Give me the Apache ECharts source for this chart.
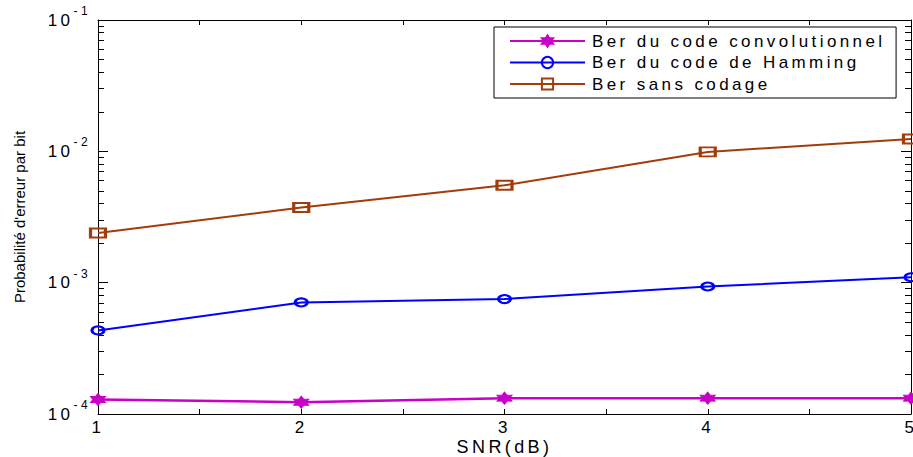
<!DOCTYPE html>
<html>
<head>
<meta charset="utf-8">
<script src="https://cdn.jsdelivr.net/npm/echarts@6/dist/echarts.min.js"></script>
<style>
    html, body { margin: 0; padding: 0; background: #fff; }
    #main { width: 913px; height: 457px; }
    /* matlab export looks stretched sideways, so open up the letters */
    #main text { letter-spacing: 3.4px; }
    #main text[transform^="matrix(0,-1"] { letter-spacing: 0px; }
</style>
</head>
<body>
<div id="main"></div>
<script>
var snr = [1, 2, 3, 4, 5];
var berConv = [1.29e-4, 1.23e-4, 1.32e-4, 1.32e-4, 1.32e-4];
var berHamming = [4.33e-4, 7.07e-4, 7.5e-4, 9.35e-4, 1.10e-3];
var berSans = [2.39e-3, 3.73e-3, 5.51e-3, 9.9e-3, 1.24e-2];
var xTicks = [1, 2, 3, 4, 5];
var yTicks = [1e-4, 1e-3, 1e-2, 1e-1];
var yExpLabels = ['-4', '-3', '-2', '-1'];
var seriesNames = ['Ber du code convolutionnel', 'Ber du code de Hamming', 'Ber sans codage'];

// minor log ticks 2..9 in each decade
var yMinor = [];
for (var d = 0; d < yTicks.length - 1; d++) {
    for (var k = 2; k <= 9; k++) {
        yMinor.push(+(k * yTicks[d]).toPrecision(3));
    }
}

var hexagram = 'path://M0,-100 L28.9,-50 L86.6,-50 L57.7,0 L86.6,50 L28.9,50 L0,100 L-28.9,50 L-86.6,50 L-57.7,0 L-86.6,-50 L-28.9,-50 Z';
var font = 'Liberation Sans';

function pairs(ys) {
    var out = [];
    for (var i = 0; i < snr.length; i++) out.push([snr[i], ys[i]]);
    return out;
}

function yAxisBase(pos, ticks, len, showLine) {
    return {
        type: 'log',
        position: pos,
        min: yTicks[0],
        max: yTicks[yTicks.length - 1],
        axisLine: { show: showLine, lineStyle: { color: '#000', width: 1 } },
        axisTick: { show: true, inside: true, length: len, customValues: ticks, lineStyle: { color: '#000', width: 1 } },
        axisLabel: { show: false },
        splitLine: { show: false }
    };
}

var chart = echarts.init(document.getElementById('main'), null, { renderer: 'svg' });

var yMain = yAxisBase('left', yTicks, 10, true);
yMain.name = 'Probabilité d\'erreur par bit';
yMain.nameLocation = 'middle';
yMain.nameGap = 71;
yMain.nameMoveOverlap = false;
yMain.nameTextStyle = { fontFamily: font, fontSize: 15, color: '#000' };
yMain.axisLabel = {
    show: true,
    customValues: yTicks,
    margin: 7,
    color: '#000',
    fontFamily: font,
    formatter: function (v) {
        var i = yTicks.indexOf(v);
        if (i < 0) return '';
        return '{b|10}{sup|' + yExpLabels[i] + '}';
    },
    rich: {
        b: { fontFamily: font, fontSize: 17, color: '#000', lineHeight: 30, padding: [0, 7, 0, 0] },
        sup: { fontFamily: font, fontSize: 12, color: '#000', verticalAlign: 'top', lineHeight: 12 }
    }
};

var option = {
    backgroundColor: '#fff',
    animation: false,
    grid: { left: 98, right: 2, top: 20, bottom: 43, show: false, outerBoundsMode: 'none' },
    legend: {
        orient: 'vertical',
        left: 494,
        top: 27,
        data: seriesNames,
        itemWidth: 75,
        itemHeight: 14,
        itemGap: 3.5,
        padding: [5, 99, 5, 15],
        backgroundColor: '#fff',
        borderColor: '#000',
        borderWidth: 1,
        borderRadius: 0,
        textStyle: { fontFamily: font, fontSize: 17, color: '#000', lineHeight: 18, padding: [0, 0, 0, 2] }
    },
    xAxis: [{
        type: 'value',
        position: 'bottom',
        min: 1,
        max: 5,
        interval: 0.5,
        name: 'SNR(dB)',
        nameLocation: 'middle',
        nameGap: 24,
        nameMoveOverlap: false,
        nameTextStyle: { fontFamily: font, fontSize: 18, color: '#000' },
        axisLine: { show: true, lineStyle: { color: '#000', width: 1 } },
        axisTick: { show: true, inside: true, length: 5, lineStyle: { color: '#000' } },
        axisLabel: { show: true, customValues: xTicks, margin: 5, fontFamily: font, fontSize: 17, color: '#000' },
        splitLine: { show: false }
    }, {
        type: 'value',
        position: 'top',
        min: 1,
        max: 5,
        interval: 0.5,
        axisLine: { show: true, lineStyle: { color: '#000', width: 1 } },
        axisTick: { show: true, inside: true, length: 5, lineStyle: { color: '#000' } },
        axisLabel: { show: false },
        splitLine: { show: false }
    }],
    yAxis: [
        yMain,
        yAxisBase('left', yMinor, 6, false),
        yAxisBase('right', yTicks, 10, true),
        yAxisBase('right', yMinor, 6, false)
    ],
    series: [{
        name: seriesNames[0],
        type: 'line',
        data: pairs(berConv),
        clip: false,
        symbol: hexagram,
        symbolSize: [15, 12],
        lineStyle: { color: '#C800C8', width: 2.5 },
        itemStyle: { color: '#C800C8', borderColor: '#C800C8', borderWidth: 1 }
    }, {
        name: seriesNames[1],
        type: 'line',
        data: pairs(berHamming),
        clip: false,
        symbol: 'circle',
        symbolSize: [12, 8],
        lineStyle: { color: '#0000FF', width: 2 },
        itemStyle: { color: 'none', borderColor: '#0000FF', borderWidth: 2.5 }
    }, {
        name: seriesNames[2],
        type: 'line',
        data: pairs(berSans),
        clip: false,
        symbol: 'rect',
        symbolSize: [15, 9],
        lineStyle: { color: '#A33C0B', width: 2 },
        itemStyle: { color: 'none', borderColor: '#A33C0B', borderWidth: 2.5 }
    }]
};
chart.setOption(option);
</script>
</body>
</html>
